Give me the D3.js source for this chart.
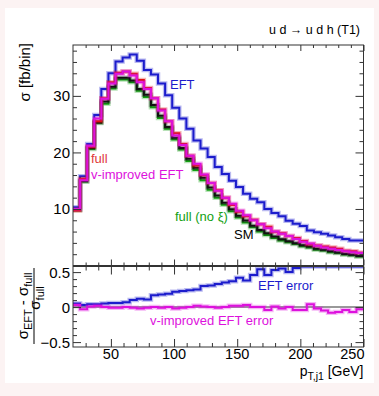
<!DOCTYPE html>
<html>
<head>
<meta charset="utf-8">
<script src="https://cdn.jsdelivr.net/npm/d3@7"></script>
<style>
  body { margin: 0; background: #fcf3f3; }
  text { font-family: "Liberation Sans", Arial, sans-serif; }
</style>
</head>
<body>
<div id="chart"></div>
<script>
// histogram binning (pT of leading jet, GeV)
var binLo = 20, binHi = 250, nBins = 41;

// sigma [fb/bin] per bin
var eft   = [10.3, 15.8, 21.5, 26.6, 31.2, 34.0, 36.1, 36.8, 37.3, 36.2, 34.6, 33.8, 32.2, 30.1, 27.9, 26.0, 24.2, 22.1, 20.7, 19.2, 17.4, 16.2, 15.0, 13.9, 12.7, 11.8, 11.2, 10.0, 9.3, 8.7, 7.9, 7.4, 7.0, 6.2, 5.9, 5.6, 5.3, 5.0, 4.7, 4.4, 4.4];
var full  = [9.75, 15.35, 21.0, 25.5, 29.6, 32.4, 34.1, 34.3, 33.9, 32.8, 31.4, 29.6, 27.6, 25.5, 23.4, 21.5, 19.4, 17.7, 16.0, 14.6, 13.3, 12.0, 10.7, 9.5, 8.7, 8.1, 7.3, 6.85, 5.95, 5.7, 5.2, 4.85, 4.35, 3.75, 3.55, 3.35, 3.2, 2.95, 2.6, 2.5, 2.25];
var vimp  = [10.0, 15.1, 21.2, 26.0, 29.5, 32.2, 33.9, 34.3, 33.6, 32.4, 31.2, 29.6, 27.4, 25.5, 23.0, 21.3, 19.4, 18.0, 16.1, 14.6, 13.2, 12.0, 10.9, 9.7, 8.9, 8.0, 7.3, 6.6, 6.0, 5.6, 5.2, 4.7, 4.2, 3.9, 3.5, 3.2, 2.95, 2.75, 2.5, 2.35, 2.2];
var sm    = [9.85, 14.95, 20.8, 25.3, 29.0, 31.6, 33.2, 33.2, 32.7, 31.2, 30.2, 28.4, 26.5, 24.5, 22.6, 20.8, 18.9, 17.3, 15.5, 13.8, 12.4, 11.1, 9.95, 8.8, 7.95, 7.05, 6.3, 5.7, 5.15, 4.65, 4.3, 3.95, 3.6, 3.35, 2.95, 2.8, 2.5, 2.3, 2.05, 1.9, 1.7];
var noXi  = [9.8, 14.8, 20.6, 25.2, 28.6, 31.3, 32.9, 32.9, 32.4, 30.9, 29.8, 28.0, 26.1, 24.2, 22.3, 20.5, 18.5, 16.9, 15.1, 13.4, 12.0, 10.75, 9.6, 8.5, 7.6, 6.75, 6.0, 5.4, 4.85, 4.4, 4.1, 3.8, 3.4, 3.2, 2.8, 2.65, 2.35, 2.2, 1.95, 1.8, 1.6];

// (sigma_EFT - sigma_full) / sigma_full
var eftErr  = [0.05, 0.03, 0.04, 0.04, 0.05, 0.06, 0.06, 0.07, 0.10, 0.12, 0.11, 0.17, 0.18, 0.19, 0.22, 0.23, 0.24, 0.25, 0.30, 0.31, 0.33, 0.35, 0.37, 0.42, 0.38, 0.46, 0.54, 0.46, 0.53, 0.55, 0.50, 0.56, 0.61, 0.65, 0.66, 0.67, 0.66, 0.69, 0.81, 0.76, 0.96];
var vimpErr = [0.03, -0.03, 0.01, 0.02, 0.0, -0.01, -0.01, 0.0, -0.01, -0.02, -0.01, 0.0, -0.01, 0.0, -0.02, -0.01, 0.0, 0.02, 0.01, 0.0, -0.01, 0.0, 0.02, 0.02, 0.03, 0.0, 0.0, -0.04, 0.01, -0.02, 0.0, -0.04, -0.04, 0.04, -0.02, -0.05, -0.08, -0.07, -0.04, -0.07, -0.03];

var xMajor = [50, 100, 150, 200, 250];
var xMinor = [30, 40, 60, 70, 80, 90, 110, 120, 130, 140, 160, 170, 180, 190, 210, 220, 230, 240];
var yMajorTop = [10, 20, 30];
var yMinorTop = [2, 4, 6, 8, 12, 14, 16, 18, 22, 24, 26, 28, 32, 34, 36, 38];
var yMajorBot = [-0.5, 0, 0.5];
var yMinorBot = [-0.4, -0.3, -0.2, -0.1, 0.1, 0.2, 0.3, 0.4];

var svgWidth = 379, svgHeight = 396;
var left = 73, right = 363.5;
var topPad = { top: 45, bottom: 265.5 };
var botPad = { top: 266.5, bottom: 347 };

var colBlue = "#1c1ccc", colRed = "#dd1111", colMag = "#dd11dd", colGreen = "#13a013", colBlack = "#111";

var svg = d3.select("#chart").append("svg")
  .attr("width", svgWidth)
  .attr("height", svgHeight);

svg.append("rect")
  .attr("x", 5).attr("y", 8)
  .attr("width", 369).attr("height", 375)
  .attr("fill", "#fff");

var edges = d3.range(nBins + 1).map(i => binLo + i * (binHi - binLo) / nBins);

var x = d3.scaleLinear().domain([20, 250]).range([left, right]);
var yTop = d3.scaleLinear().domain([0, 39]).range([topPad.bottom, topPad.top]);
var yBot = d3.scaleLinear().domain([-0.57, 0.58]).range([botPad.bottom, botPad.top]).clamp(true);

// clip paths
var defs = svg.append("defs");
defs.append("clipPath").attr("id", "clipTop").append("rect")
  .attr("x", left).attr("y", topPad.top).attr("width", right - left).attr("height", topPad.bottom - topPad.top);
defs.append("clipPath").attr("id", "clipBot").append("rect")
  .attr("x", left).attr("y", botPad.top - 1).attr("width", right - left).attr("height", botPad.bottom - botPad.top + 1);

function stepPoints(vals) {
  var pts = [];
  vals.forEach(function(v, i) {
    pts.push([edges[i], v]);
    pts.push([edges[i + 1], v]);
  });
  return pts;
}

function drawHist(g, vals, yScale, color) {
  var line = d3.line().x(d => x(d[0])).y(d => yScale(d[1]));
  var pts = stepPoints(vals);
  g.append("path")
    .attr("d", line(pts))
    .attr("fill", "none")
    .attr("stroke", color)
    .attr("stroke-opacity", 0.3)
    .attr("stroke-width", 4.5);
  g.append("path")
    .attr("d", line(pts))
    .attr("fill", "none")
    .attr("stroke", color)
    .attr("stroke-width", 2);
}

// ---------- upper pad ----------
var upper = svg.append("g").attr("clip-path", "url(#clipTop)");
drawHist(upper, eft, yTop, colBlue);
drawHist(upper, noXi, yTop, colGreen);
drawHist(upper, sm, yTop, colBlack);
drawHist(upper, full, yTop, colRed);
drawHist(upper, vimp, yTop, colMag);

// ---------- lower pad ----------
var lower = svg.append("g").attr("clip-path", "url(#clipBot)");
lower.append("line")
  .attr("x1", left).attr("x2", right)
  .attr("y1", yBot(0)).attr("y2", yBot(0))
  .attr("stroke", "#999").attr("stroke-width", 2);
drawHist(lower, eftErr, yBot, colBlue);
drawHist(lower, vimpErr, yBot, colMag);

// ---------- axes / frames ----------
function tickAxis(axisGen, scale, values, size, transform) {
  var g = svg.append("g")
    .attr("transform", transform)
    .call(axisGen(scale).tickValues(values).tickSize(size).tickFormat(""));
  g.select(".domain").remove();
  g.selectAll("line").attr("stroke", "#333").attr("stroke-width", 1);
  return g;
}

function frame(pad, yScale, yMaj, yMin, xMajLen, xMinLen) {
  tickAxis(d3.axisLeft, yScale, yMaj, -8, `translate(${left},0)`);
  tickAxis(d3.axisLeft, yScale, yMin, -4, `translate(${left},0)`);
  tickAxis(d3.axisRight, yScale, yMaj, -8, `translate(${right},0)`);
  tickAxis(d3.axisRight, yScale, yMin, -4, `translate(${right},0)`);
  tickAxis(d3.axisTop, x, xMajor, -xMajLen, `translate(0,${pad.top})`);
  tickAxis(d3.axisTop, x, xMinor, -xMinLen, `translate(0,${pad.top})`);
  tickAxis(d3.axisBottom, x, xMajor, -xMajLen, `translate(0,${pad.bottom})`);
  tickAxis(d3.axisBottom, x, xMinor, -xMinLen, `translate(0,${pad.bottom})`);
  svg.append("rect")
    .attr("x", left).attr("y", pad.top)
    .attr("width", right - left).attr("height", pad.bottom - pad.top)
    .attr("fill", "none").attr("stroke", "#333").attr("stroke-width", 1);
}

frame(topPad, yTop, yMajorTop, yMinorTop, 6, 3);
frame(botPad, yBot, yMajorBot, yMinorBot, 8, 4);

// tick labels
svg.append("g").selectAll("text")
  .data(yMajorTop).enter().append("text")
  .attr("x", left - 3).attr("y", d => yTop(d) + 5.5)
  .attr("text-anchor", "end").attr("font-size", 15)
  .text(d => d);

svg.append("g").selectAll("text")
  .data(yMajorBot).enter().append("text")
  .attr("x", left - 3).attr("y", d => yBot(d) + 5.5)
  .attr("text-anchor", "end").attr("font-size", 15)
  .text(d => d === 0 ? "0" : d3.format(".1f")(d));

svg.append("g").selectAll("text")
  .data(xMajor).enter().append("text")
  .attr("x", d => d === 250 ? x(d) + 1 : x(d))
  .attr("y", 359)
  .attr("text-anchor", d => d === 250 ? "end" : "middle")
  .attr("font-size", 14.5)
  .text(d => d);

// axis titles
var xt = svg.append("text")
  .attr("x", right).attr("y", 376)
  .attr("text-anchor", "end").attr("font-size", 14);
xt.append("tspan").text("p");
xt.append("tspan").attr("font-size", 10.5).attr("dy", 3.5).text("T,j1");
xt.append("tspan").attr("dy", -3.5).text(" [GeV]");

svg.append("text")
  .attr("transform", `translate(30,${topPad.top - 2}) rotate(-90)`)
  .attr("text-anchor", "end").attr("font-size", 15)
  .text("σ [fb/bin]");

// ratio title as a fraction
var num = svg.append("text")
  .attr("transform", "translate(28,306) rotate(-90)")
  .attr("text-anchor", "middle").attr("font-size", 15);
num.append("tspan").text("σ");
num.append("tspan").attr("font-size", 11).attr("dy", 4).text("EFT");
num.append("tspan").attr("dy", -4).text(" - σ");
num.append("tspan").attr("font-size", 11).attr("dy", 4).text("full");

svg.append("line")
  .attr("x1", 34).attr("x2", 34)
  .attr("y1", 268).attr("y2", 344)
  .attr("stroke", "#000").attr("stroke-width", 1);

var den = svg.append("text")
  .attr("transform", "translate(40,298) rotate(-90)")
  .attr("text-anchor", "middle").attr("font-size", 15);
den.append("tspan").text("σ");
den.append("tspan").attr("font-size", 11).attr("dy", 4).text("full");

// process title
svg.append("text")
  .attr("x", 360).attr("y", 34)
  .attr("text-anchor", "end").attr("font-size", 12.5)
  .text("u d \u2192 u d h (T1)");

// curve labels
var labels = [
  { t: "EFT", x: 170, y: 89, c: colBlue },
  { t: "full", x: 91, y: 163, c: "#e03a3a" },
  { t: "v-improved EFT", x: 91, y: 179, c: colMag },
  { t: "full (no \u03be)", x: 175, y: 221, c: colGreen },
  { t: "SM", x: 234, y: 239, c: "#000" },
  { t: "EFT error", x: 258, y: 290, c: colBlue },
  { t: "v-improved EFT error", x: 150, y: 325, c: colMag }
];
svg.append("g").selectAll("text")
  .data(labels).enter().append("text")
  .attr("x", d => d.x).attr("y", d => d.y)
  .attr("fill", d => d.c)
  .attr("font-size", 13)
  .text(d => d.t);
</script>
</body>
</html>
